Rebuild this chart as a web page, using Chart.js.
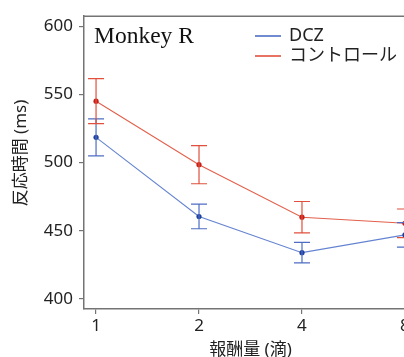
<!DOCTYPE html>
<html>
<head>
<meta charset="utf-8">
<script src="https://cdn.jsdelivr.net/npm/chart.js@4.4.1/dist/chart.umd.min.js"></script>
<style>
  html, body { margin: 0; padding: 0; background: #fff; overflow: hidden; }
  #wrap { width: 404px; height: 357px; overflow: hidden; position: relative; }
  #box { width: 440px; height: 360px; position: absolute; left: 0; top: 0; }
</style>
</head>
<body>
<div id="wrap"><div id="box"><canvas id="c"></canvas></div></div>
<script>
// ---- data ----
const categories = ['1', '2', '4', '8'];
const yTicks = [400, 450, 500, 550, 600];
const dczValues = [518.5, 460.5, 434, 447];
const dczErrors = [13.5, 9, 7.5, 9];
const controlValues = [545, 498.5, 460, 455.5];
const controlErrors = [16.5, 14, 11.5, 10.5];
const seriesLabels = ['DCZ', 'コントロール'];
const panelLabel = 'Monkey R';
const yTitle = '反応時間 (ms)';
const xTitle = '報酬量 (滴)';

const FONT = "'Noto Sans', 'Noto Sans CJK JP', sans-serif";
const AXIS = '#747474';

const toPts = arr => arr.map((v, i) => ({ x: i, y: v }));

const errorBars = {
  id: 'errorBars',
  afterDatasetsDraw(chart) {
    const { ctx, scales: { x, y } } = chart;
    const sets = [
      { vals: dczValues, errs: dczErrors, color: '#4d6ec4' },
      { vals: controlValues, errs: controlErrors, color: '#e0503c' }
    ];
    ctx.save();
    ctx.lineWidth = 1.2;
    sets.forEach(s => {
      ctx.strokeStyle = s.color;
      s.vals.forEach((v, i) => {
        const px = x.getPixelForValue(i);
        const top = y.getPixelForValue(v + s.errs[i]);
        const bot = y.getPixelForValue(v - s.errs[i]);
        ctx.beginPath();
        ctx.moveTo(px, top); ctx.lineTo(px, bot);
        ctx.moveTo(px - 8, top); ctx.lineTo(px + 8, top);
        ctx.moveTo(px - 8, bot); ctx.lineTo(px + 8, bot);
        ctx.stroke();
      });
    });
    ctx.restore();
  }
};

const decorations = {
  id: 'decorations',
  afterDraw(chart) {
    const { ctx, chartArea } = chart;
    ctx.save();
    // top frame line
    ctx.strokeStyle = AXIS;
    ctx.lineWidth = 1.5;
    ctx.beginPath();
    ctx.moveTo(chartArea.left, chartArea.top);
    ctx.lineTo(chartArea.right, chartArea.top);
    ctx.stroke();
    // panel label
    ctx.fillStyle = '#111';
    ctx.font = "23.5px 'Liberation Serif', serif";
    ctx.textBaseline = 'alphabetic';
    ctx.textAlign = 'left';
    ctx.fillText(panelLabel, 94, 43);
    // legend
    const colors = ['#4d6ec4', '#e0503c'];
    ctx.font = '18px ' + FONT;
    ctx.textBaseline = 'middle';
    seriesLabels.forEach((lab, i) => {
      const yy = 36 + i * 20;
      ctx.strokeStyle = colors[i];
      ctx.lineWidth = 1.6;
      ctx.beginPath();
      ctx.moveTo(255, yy); ctx.lineTo(281, yy);
      ctx.stroke();
      ctx.fillStyle = '#222';
      ctx.fillText(lab, 289, yy);
    });
    // y title
    ctx.translate(21, 153);
    ctx.rotate(-Math.PI / 2);
    ctx.textAlign = 'center';
    ctx.textBaseline = 'middle';
    ctx.fillStyle = '#222';
    ctx.font = '17px ' + FONT;
    ctx.fillText(yTitle, 0, 0);
    ctx.restore();
  }
};

new Chart(document.getElementById('c'), {
  type: 'line',
  data: {
    datasets: [
      {
        label: seriesLabels[0],
        data: toPts(dczValues),
        borderColor: '#6483d0',
        backgroundColor: '#1f3f9f',
        pointBackgroundColor: '#1f3f9f',
        pointBorderWidth: 0,
        pointRadius: 2.6,
        borderWidth: 1.1,
        tension: 0
      },
      {
        label: seriesLabels[1],
        data: toPts(controlValues),
        borderColor: '#e2604c',
        backgroundColor: '#c81e18',
        pointBackgroundColor: '#c81e18',
        pointBorderWidth: 0,
        pointRadius: 2.6,
        borderWidth: 1.1,
        tension: 0
      }
    ]
  },
  options: {
    responsive: true,
    maintainAspectRatio: false,
    animation: false,
    events: [],
    layout: { padding: { top: 15, right: 23, left: 0, bottom: 0 } },
    plugins: { legend: { display: false }, tooltip: { enabled: false } },
    scales: {
      x: {
        type: 'linear',
        min: -0.117,
        max: 3.117,
        afterBuildTicks: s => { s.ticks = categories.map((c, i) => ({ value: i })); },
        afterFit: s => { s.height = 51; },
        ticks: {
          callback: v => categories[v],
          font: { family: FONT, size: 17 },
          color: '#222',
          padding: 2,
          maxRotation: 0
        },
        grid: { drawOnChartArea: false, drawTicks: true, tickLength: 5, color: AXIS, lineWidth: 1.2 },
        border: { display: true, color: AXIS, width: 1.5 },
        title: {
          display: true,
          text: xTitle,
          font: { family: FONT, size: 17 },
          color: '#222',
          padding: { top: 0, bottom: 0 }
        }
      },
      y: {
        min: 392.7,
        max: 607.3,
        afterBuildTicks: s => { s.ticks = yTicks.map(v => ({ value: v })); },
        afterFit: s => { s.width = 84; },
        ticks: {
          font: { family: FONT, size: 17 },
          color: '#222',
          padding: 6
        },
        grid: { drawOnChartArea: false, drawTicks: true, tickLength: 5, color: AXIS, lineWidth: 1.2 },
        border: { display: true, color: AXIS, width: 1.5 }
      }
    }
  },
  plugins: [errorBars, decorations]
});
</script>
</body>
</html>
